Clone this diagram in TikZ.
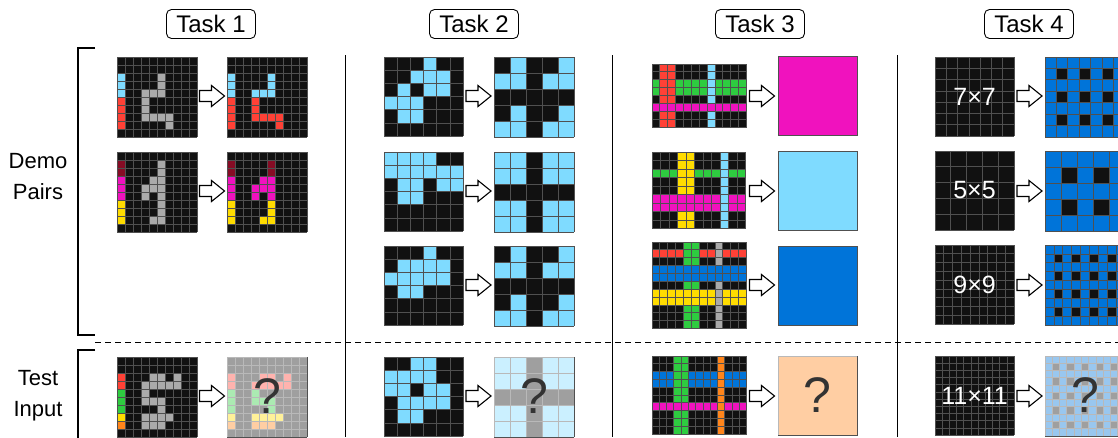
\documentclass[tikz,border=0pt]{standalone}
\usepackage{fontspec}
\setmainfont{Liberation Sans}
\usepackage{xcolor}
\usepackage{tikz}

\definecolor{arcblack}{HTML}{111111}
\definecolor{arcline}{HTML}{505050}
\definecolor{arcblue}{HTML}{0074D9}
\definecolor{arcred}{HTML}{FF4136}
\definecolor{arcgreen}{HTML}{2ECC40}
\definecolor{arcyellow}{HTML}{FFDC00}
\definecolor{arcgray}{HTML}{AAAAAA}
\definecolor{arcmagenta}{HTML}{F012BE}
\definecolor{arcorange}{HTML}{FF851B}
\definecolor{arcsky}{HTML}{7FDBFF}
\definecolor{arcmaroon}{HTML}{870C25}
\definecolor{qmark}{HTML}{333333}

\newcommand{\gridlines}[2]{%
  \foreach \i in {0,...,#1} {\draw[cellline] (\i,0) -- (\i,#2);}
  \foreach \j in {0,...,#2} {\draw[cellline] (0,\j) -- (#1,\j);}}
\newcommand{\paintcells}[2]{\foreach \c/\r in {#2} {\fill[#1] (\c,\r) rectangle ++(1,1);}}
\newcommand{\paintrow}[4]{\fill[#1] (#3,#2) rectangle (#4+1,#2+1);}
\newcommand{\paintcol}[4]{\fill[#1] (#2,#3) rectangle (#2+1,#4+1);}
\newcommand{\blank}[2]{\fill[arcblack] (0,0) rectangle (#1,#2);}
\newcommand{\blockarrow}[1]{%
  \draw[arrowshape] (#1) ++(-12.5,-5.5) -- ++(12,0) -- ++(0,-5) -- ++(13,10.5)
    -- ++(-13,10.5) -- ++(0,-5) -- ++(-12,0) -- cycle;}

\tikzset{
  cellline/.style={arcline, line width=0.8pt},
  arrowshape/.style={draw=black, fill=white, line width=1.1pt, line join=miter},
  taskbox/.style={draw, rounded corners=5pt, line width=0.9pt, minimum width=89pt,
    minimum height=29pt, inner sep=0pt, font=\fontsize{24}{24}\selectfont},
  sidelabel/.style={align=center, font=\fontsize{22}{31}\selectfont},
  sizelabel/.style={text=white, font=\fontsize{25}{25}\selectfont},
  unknown/.style={text=qmark, font=\fontsize{50}{50}\selectfont},
  fade/.style={fill=white, opacity=0.6},
  sqborder/.style={draw=arcline, line width=0.9pt},
}

\begin{document}
\begin{tikzpicture}[x=1pt,y=-1pt]
  \useasboundingbox (0,0) rectangle (1118,437);
  \clip (0,0) rectangle (1118,437);

  \node[taskbox] (task1) at (211,24) {Task 1};
  \node[taskbox] (task2) at (474,24) {Task 2};
  \node[taskbox] (task3) at (760,24) {Task 3};
  \node[taskbox] (task4) at (1029,24) {Task 4};
  \node[sidelabel] (demo) at (38,177) {Demo\\Pairs};
  \node[sidelabel] (test) at (38,396) {Test\\Input};

  \draw[line width=2pt] (95,48) -- (78,48) -- (78,335) -- (95,335);
  \draw[line width=2pt] (95,350) -- (78,350) -- (78,440);
  \draw[line width=1pt] (345,55) -- (345,437);
  \draw[line width=1pt] (612,55) -- (612,437);
  \draw[line width=1pt] (897,55) -- (897,437);
  \draw[line width=1pt, dash pattern=on 6pt off 4pt] (95,342) -- (1118,342);

  % task 1
  \begin{scope}[shift={(117,57)},x=8pt,y=-8pt]
    \blank{10}{10}
    \paintcol{arcsky}{0}{2}{4} \paintcol{arcred}{0}{5}{8}
    \paintcells{arcgray}{5/2,5/3,3/4,4/4,5/4,3/5,3/6,3/7,4/7,5/7,6/7,6/8}
    \gridlines{10}{10}
  \end{scope}
  \begin{scope}[shift={(227,57)},x=8pt,y=-8pt]
    \blank{10}{10}
    \paintcol{arcsky}{0}{2}{4} \paintcol{arcred}{0}{5}{8}
    \paintcells{arcsky}{5/2,5/3,3/4,4/4,5/4}
    \paintcells{arcred}{3/5,3/6,3/7,4/7,5/7,6/7,6/8}
    \gridlines{10}{10}
  \end{scope}
  \begin{scope}[shift={(117,152)},x=8pt,y=-8pt]
    \blank{10}{10}
    \paintcol{arcmaroon}{0}{1}{2} \paintcol{arcmagenta}{0}{3}{5} \paintcol{arcyellow}{0}{6}{8}
    \paintcells{arcgray}{5/1,5/2,4/3,5/3,3/4,4/4,5/4,3/5,5/5,5/6,5/7,4/8,5/8}
    \gridlines{10}{10}
  \end{scope}
  \begin{scope}[shift={(227,152)},x=8pt,y=-8pt]
    \blank{10}{10}
    \paintcol{arcmaroon}{0}{1}{2} \paintcol{arcmagenta}{0}{3}{5} \paintcol{arcyellow}{0}{6}{8}
    \paintcells{arcmaroon}{5/1,5/2}
    \paintcells{arcmagenta}{4/3,5/3,3/4,4/4,5/4,3/5,5/5}
    \paintcells{arcyellow}{5/6,5/7,4/8,5/8}
    \gridlines{10}{10}
  \end{scope}
  \begin{scope}[shift={(117,357)},x=8pt,y=-8pt]
    \blank{10}{10}
    \paintcol{arcred}{0}{2}{3} \paintcol{arcgreen}{0}{4}{6}
    \paintcells{arcyellow}{0/7} \paintcells{arcorange}{0/8}
    \paintcells{arcgray}{4/2,5/2,7/2,3/3,4/3,5/3,6/3,7/3,3/4,3/5,4/5,5/5,5/6,3/7,4/7,5/7,6/7,3/8,4/8,5/8}
    \gridlines{10}{10}
  \end{scope}
  \begin{scope}[shift={(227,357)},x=8pt,y=-8pt]
    \blank{10}{10}
    \paintcol{arcred}{0}{2}{3} \paintcol{arcgreen}{0}{4}{6}
    \paintcells{arcyellow}{0/7} \paintcells{arcorange}{0/8}
    \paintcells{arcred}{4/2,5/2,7/2,3/3,4/3,5/3,6/3,7/3}
    \paintcells{arcgreen}{3/4,3/5,4/5,5/5,5/6}
    \paintcells{arcyellow}{3/7,4/7,5/7,6/7} \paintcells{arcorange}{3/8,4/8,5/8}
    \gridlines{10}{10}
    \fill[fade] (0,0) rectangle (10,10);
    \node[unknown] (q1) at (5,4.9) {?};
  \end{scope}
  \coordinate (arr11) at (212,96);
  \coordinate (arr12) at (212,191);
  \coordinate (arr13) at (212,396);
  \foreach \a in {arr11,arr12,arr13} {\blockarrow{\a}}

  % task 2
  \begin{scope}[shift={(384,57)},x=13.2pt,y=-13.2pt]
    \blank{6}{6}
    \paintcells{arcsky}{3/0,1/2,3/2,4/2,1/4,2/4}
    \paintrow{arcsky}{1}{2}{4} \paintrow{arcsky}{3}{0}{2}
    \gridlines{6}{6}
  \end{scope}
  \begin{scope}[shift={(494,57)},x=16pt,y=-16pt]
    \blank{5}{5}
    \paintcells{arcsky}{1/0,4/0,0/1,1/1,3/1,4/1,1/3,4/3,0/4,1/4,3/4,4/4}
    \gridlines{5}{5}
  \end{scope}
  \begin{scope}[shift={(384,152)},x=13.2pt,y=-13.2pt]
    \blank{6}{6}
    \paintrow{arcsky}{0}{0}{3} \paintrow{arcsky}{1}{0}{5}
    \paintcells{arcsky}{1/2,2/2,4/2,5/2,1/3,2/3}
    \gridlines{6}{6}
  \end{scope}
  \begin{scope}[shift={(494,152)},x=16pt,y=-16pt]
    \blank{5}{5}
    \paintcells{arcsky}{0/0,1/0,3/0,4/0,0/1,1/1,3/1,4/1,0/3,1/3,3/3,4/3,0/4,1/4,3/4,4/4}
    \gridlines{5}{5}
  \end{scope}
  \begin{scope}[shift={(384,246)},x=13.2pt,y=-13.2pt]
    \blank{6}{6}
    \paintcells{arcsky}{3/0,1/3,2/3}
    \paintrow{arcsky}{1}{1}{4} \paintrow{arcsky}{2}{0}{4}
    \gridlines{6}{6}
  \end{scope}
  \begin{scope}[shift={(494,246)},x=16pt,y=-16pt]
    \blank{5}{5}
    \paintcells{arcsky}{1/0,4/0,0/1,1/1,3/1,4/1,1/3,4/3,0/4,1/4,3/4,4/4}
    \gridlines{5}{5}
  \end{scope}
  \begin{scope}[shift={(384,357)},x=13.2pt,y=-13.2pt]
    \blank{6}{6}
    \paintcells{arcsky}{2/0,3/0,0/2,1/2,3/2,4/2,1/4,2/4}
    \paintrow{arcsky}{1}{0}{3} \paintrow{arcsky}{3}{1}{4}
    \gridlines{6}{6}
  \end{scope}
  \begin{scope}[shift={(494,357)},x=16pt,y=-16pt]
    \fill[arcsky] (0,0) rectangle (5,5);
    \paintrow{arcblack}{2}{0}{4} \paintcol{arcblack}{2}{0}{4}
    \gridlines{5}{5}
    \fill[fade] (0,0) rectangle (5,5);
    \node[unknown] (q2) at (2.5,2.45) {?};
  \end{scope}
  \coordinate (arr21) at (478.5,96);
  \coordinate (arr22) at (478.5,191);
  \coordinate (arr23) at (478.5,285);
  \coordinate (arr24) at (478.5,396);
  \foreach \a in {arr21,arr22,arr23,arr24} {\blockarrow{\a}}

  % task 3
  \begin{scope}[shift={(652,64)},x=7.875pt,y=-7.875pt]
    \blank{12}{8}
    \paintrow{arcgreen}{2}{0}{11} \paintrow{arcgreen}{3}{0}{11}
    \paintcol{arcred}{1}{0}{7} \paintcol{arcred}{2}{0}{7}
    \paintcol{arcsky}{7}{0}{7}
    \paintrow{arcmagenta}{5}{0}{11}
    \gridlines{12}{8}
  \end{scope}
  \fill[arcmagenta, sqborder] (778,56) rectangle ++(79,79);
  \begin{scope}[shift={(652,152)},x=8.5pt,y=-8.5pt]
    \blank{11}{9}
    \paintrow{arcgreen}{2}{0}{10}
    \paintcol{arcyellow}{3}{0}{8} \paintcol{arcyellow}{4}{0}{8}
    \paintrow{arcmagenta}{5}{0}{10} \paintrow{arcmagenta}{6}{0}{10}
    \paintcol{arcsky}{8}{0}{8}
    \gridlines{11}{9}
  \end{scope}
  \fill[arcsky, sqborder] (778,151) rectangle ++(79,79);
  \begin{scope}[shift={(652,242)},x=7.875pt,y=-7.875pt]
    \blank{12}{11}
    \paintrow{arcred}{1}{0}{11}
    \paintcol{arcgreen}{4}{0}{10} \paintcol{arcgreen}{5}{0}{10}
    \paintrow{arcyellow}{6}{0}{11} \paintrow{arcyellow}{7}{0}{11}
    \paintcol{arcgray}{8}{0}{10}
    \paintrow{arcblue}{3}{0}{11} \paintrow{arcblue}{4}{0}{11}
    \gridlines{12}{11}
  \end{scope}
  \fill[arcblue, sqborder] (778,246) rectangle ++(79,79);
  \begin{scope}[shift={(652,356)},x=7.27pt,y=-7.8pt]
    \blank{13}{10}
    \paintrow{arcblue}{2}{0}{12} \paintrow{arcblue}{3}{0}{12}
    \paintcol{arcgreen}{3}{0}{9} \paintcol{arcgreen}{4}{0}{9}
    \paintrow{arcmagenta}{6}{0}{12}
    \paintcol{arcorange}{9}{0}{9}
    \gridlines{13}{10}
  \end{scope}
  \fill[arcorange, sqborder] (778,356) rectangle ++(79,79);
  \fill[fade] (778,356) rectangle ++(79,79);
  \node[unknown] (q3) at (817.5,395) {?};
  \coordinate (arr31) at (762,96);
  \coordinate (arr32) at (762,191);
  \coordinate (arr33) at (762,285);
  \coordinate (arr34) at (762,396);
  \foreach \a in {arr31,arr32,arr33,arr34} {\blockarrow{\a}}

  % task 4
  \begin{scope}[shift={(935,57)},x=11.3pt,y=-11.3pt]
    \blank{7}{7} \gridlines{7}{7}
    \node[sizelabel] (size7) at (3.5,3.5) {7×7};
  \end{scope}
  \begin{scope}[shift={(1045,57)},x=11.43pt,y=-11.43pt]
    \fill[arcblue] (0,0) rectangle (7,7);
    \foreach \r in {1,3,5} {\foreach \c in {1,3,5} {\fill[arcblack] (\c,\r) rectangle ++(1,1);}}
    \gridlines{7}{7}
  \end{scope}
  \begin{scope}[shift={(935,151)},x=15.8pt,y=-15.8pt]
    \blank{5}{5} \gridlines{5}{5}
    \node[sizelabel] (size5) at (2.5,2.5) {5×5};
  \end{scope}
  \begin{scope}[shift={(1045,151)},x=16pt,y=-16pt]
    \fill[arcblue] (0,0) rectangle (5,5);
    \foreach \r in {1,3} {\foreach \c in {1,3} {\fill[arcblack] (\c,\r) rectangle ++(1,1);}}
    \gridlines{5}{5}
  \end{scope}
  \begin{scope}[shift={(935,245)},x=8.8pt,y=-8.8pt]
    \blank{9}{9} \gridlines{9}{9}
    \node[sizelabel] (size9) at (4.5,4.5) {9×9};
  \end{scope}
  \begin{scope}[shift={(1045,245)},x=8.9pt,y=-8.9pt]
    \fill[arcblue] (0,0) rectangle (9,9);
    \foreach \r in {1,3,5,7} {\foreach \c in {1,3,5,7} {\fill[arcblack] (\c,\r) rectangle ++(1,1);}}
    \gridlines{9}{9}
  \end{scope}
  \begin{scope}[shift={(935,356)},x=7.2pt,y=-7.2pt]
    \blank{11}{11} \gridlines{11}{11}
    \node[sizelabel] (size11) at (5.5,5.5) {11×11};
  \end{scope}
  \begin{scope}[shift={(1045,356)},x=7.27pt,y=-7.27pt]
    \fill[arcblue] (0,0) rectangle (11,11);
    \foreach \r in {1,3,5,7,9} {\foreach \c in {1,3,5,7,9} {\fill[arcblack] (\c,\r) rectangle ++(1,1);}}
    \gridlines{11}{11}
    \fill[fade] (0,0) rectangle (11,11);
    \node[unknown] (q4) at (5.5,5.4) {?};
  \end{scope}
  \coordinate (arr41) at (1029.5,96);
  \coordinate (arr42) at (1029.5,191);
  \coordinate (arr43) at (1029.5,285);
  \coordinate (arr44) at (1029.5,396);
  \foreach \a in {arr41,arr42,arr43,arr44} {\blockarrow{\a}}
\end{tikzpicture}
\end{document}
